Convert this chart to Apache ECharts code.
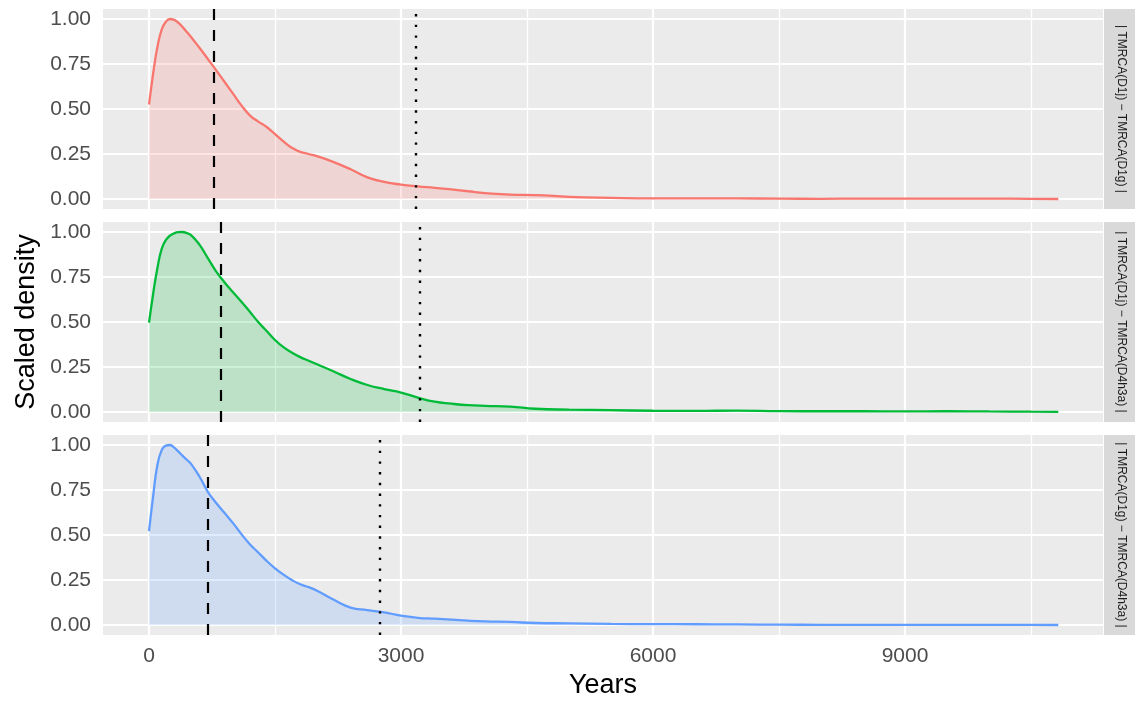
<!DOCTYPE html>
<html>
<head>
<meta charset="utf-8">
<script src="https://cdn.jsdelivr.net/npm/echarts@6/dist/echarts.min.js"></script>
<style>
	html, body { margin: 0; padding: 0; background: #fff; }
	#chart { width: 1135px; height: 706px; }
</style>
</head>
<body>
<div id="chart"></div>
<script>
// years on the x axis, shared by the three density curves
const years = [0, 50, 100, 150, 200, 250, 300, 350, 400, 450, 500, 600, 700, 800, 900, 1000, 1100, 1200, 1300, 1400, 1500, 1600, 1700, 1800, 1900, 2000, 2200, 2400, 2600, 2800, 3000, 3200, 3400, 3600, 3800, 4000, 4300, 4600, 5000, 5500, 6000, 6500, 7000, 7500, 8000, 8500, 9000, 9500, 10000, 10500, 10825]
const densD1jD1g = [0.525, 0.70, 0.845, 0.94, 0.985, 1.0, 0.995, 0.978, 0.955, 0.928, 0.90, 0.84, 0.778, 0.715, 0.65, 0.585, 0.52, 0.465, 0.43, 0.40, 0.36, 0.32, 0.285, 0.262, 0.25, 0.238, 0.205, 0.165, 0.12, 0.095, 0.08, 0.07, 0.062, 0.053, 0.043, 0.033, 0.024, 0.022, 0.012, 0.006, 0.003, 0.003, 0.003, 0.002, 0.001, 0.002, 0.002, 0.002, 0.002, 0.001, 0.0]
const densD1jD4h3a = [0.496, 0.66, 0.80, 0.905, 0.955, 0.98, 0.993, 0.999, 1.0, 0.994, 0.983, 0.93, 0.855, 0.78, 0.72, 0.665, 0.612, 0.557, 0.50, 0.45, 0.40, 0.36, 0.33, 0.305, 0.285, 0.265, 0.225, 0.183, 0.15, 0.127, 0.108, 0.08, 0.057, 0.046, 0.038, 0.034, 0.03, 0.018, 0.013, 0.01, 0.007, 0.006, 0.008, 0.005, 0.004, 0.004, 0.003, 0.004, 0.003, 0.002, 0.001]
const densD1gD4h3a = [0.521, 0.72, 0.89, 0.97, 0.997, 1.0, 0.985, 0.963, 0.94, 0.918, 0.895, 0.825, 0.74, 0.678, 0.622, 0.566, 0.505, 0.449, 0.403, 0.356, 0.315, 0.28, 0.25, 0.226, 0.21, 0.19, 0.14, 0.097, 0.083, 0.07, 0.052, 0.04, 0.035, 0.03, 0.024, 0.02, 0.017, 0.011, 0.009, 0.006, 0.005, 0.004, 0.003, 0.002, 0.001, 0.001, 0.001, 0.001, 0.001, 0.001, 0.0]

const facetLabels = ["| TMRCA(D1j) − TMRCA(D1g) |", "| TMRCA(D1j) − TMRCA(D4h3a) |", "| TMRCA(D1g) − TMRCA(D4h3a) |"]
const facetColors = ["#F8766D", "#00BA38", "#619CFF"]
const dashedAt = [774, 849, 702]
const dottedAt = [3175, 3218, 2750]

const xBreaks = [0, 3000, 6000, 9000]
const xMinorBreaks = [1500, 4500, 7500, 10500]
const yBreaks = [0, 0.25, 0.5, 0.75, 1]

const font = "'Liberation Sans', Arial, sans-serif"
const panelTops = [9, 222, 435]
const panelH = 200
const series = [densD1jD1g, densD1jD4h3a, densD1gD4h3a]

let myChart = echarts.init(document.getElementById("chart"), null, { renderer: "canvas" })

let grids = [], xAxes = [], yAxes = [], allSeries = [], graphics = []

panelTops.forEach((top, i) => {
	let isBottom = i === panelTops.length - 1
	grids.push({
		left: 103,
		right: 32,
		top: top,
		height: panelH,
		show: true,
		backgroundColor: "#EBEBEB",
		borderWidth: 0,
	})
	xAxes.push({
		type: "value",
		gridIndex: i,
		min: -548,
		max: 11357,
		axisLine: { show: false },
		splitLine: { show: false },
		axisTick: {
			show: isBottom,
			customValues: xBreaks,
			length: 6,
			lineStyle: { color: "#333333", width: 1.5 },
		},
		axisLabel: {
			show: isBottom,
			customValues: xBreaks,
			margin: 11,
			fontSize: 21,
			color: "#4D4D4D",
			fontFamily: font,
			formatter: (v) => String(v),
		},
		name: isBottom ? "Years" : "",
		nameLocation: "middle",
		nameGap: 37,
		nameTextStyle: { fontSize: 27, color: "#000", fontFamily: font },
	})
	yAxes.push({
		type: "value",
		gridIndex: i,
		min: -0.0556,
		max: 1.0556,
		axisLine: { show: false },
		splitLine: { show: false },
		axisTick: {
			show: true,
			customValues: yBreaks,
			length: 6,
			lineStyle: { color: "#333333", width: 1.5 },
		},
		axisLabel: {
			customValues: yBreaks,
			margin: 12,
			fontSize: 21,
			color: "#4D4D4D",
			fontFamily: font,
			formatter: (v) => v.toFixed(2),
		},
	})

	// white grid lines, kept under the density fill (markLine z is 5 by default)
	let gridLines = []
	xMinorBreaks.forEach((v) => gridLines.push({ xAxis: v, lineStyle: { width: 1.3 } }))
	xBreaks.forEach((v) => gridLines.push({ xAxis: v, lineStyle: { width: 2.2 } }))
	yBreaks.forEach((v) => gridLines.push({ yAxis: v, lineStyle: { width: 2.2 } }))
	allSeries.push({
		type: "line",
		xAxisIndex: i,
		yAxisIndex: i,
		z: 1,
		data: [],
		silent: true,
		markLine: {
			z: 1,
			silent: true,
			symbol: ["none", "none"],
			label: { show: false },
			lineStyle: { color: "#FFFFFF", type: "solid" },
			data: gridLines,
		},
	})

	allSeries.push({
		type: "line",
		name: facetLabels[i],
		xAxisIndex: i,
		yAxisIndex: i,
		z: 3,
		smooth: 0.5,
		showSymbol: false,
		data: years.map((x, k) => [x, series[i][k]]),
		lineStyle: { color: facetColors[i], width: 2.3 },
		areaStyle: { color: facetColors[i], opacity: 0.2 },
	})

	// dashed and dotted reference lines
	allSeries.push({
		type: "line",
		xAxisIndex: i,
		yAxisIndex: i,
		z: 4,
		data: [],
		silent: true,
		markLine: {
			z: 6,
			silent: true,
			symbol: ["none", "none"],
			label: { show: false },
			data: [
				{ xAxis: dashedAt[i], lineStyle: { color: "#000", width: 2.2, type: [11, 10] } },
				{ xAxis: dottedAt[i], lineStyle: { color: "#000", width: 2.4, type: [2.4, 8.3] } },
			],
		},
	})

	// facet strip on the right
	graphics.push({
		type: "rect",
		shape: { x: 1104, y: top, width: 31, height: panelH },
		style: { fill: "#D9D9D9" },
		silent: true,
	})
	graphics.push({
		type: "text",
		x: 1121.5,
		y: top + panelH / 2,
		rotation: -Math.PI / 2,
		style: {
			text: facetLabels[i],
			align: "center",
			verticalAlign: "middle",
			fontSize: 12,
			fill: "#1A1A1A",
			fontFamily: font,
		},
		silent: true,
	})
})

graphics.push({
	type: "text",
	x: 27,
	y: (panelTops[0] + panelTops[2] + panelH) / 2,
	rotation: Math.PI / 2,
	style: {
		text: "Scaled density",
		align: "center",
		verticalAlign: "middle",
		fontSize: 27,
		fill: "#000",
		fontFamily: font,
	},
	silent: true,
})

let option = {
	animation: false,
	backgroundColor: "#FFFFFF",
	grid: grids,
	xAxis: xAxes,
	yAxis: yAxes,
	series: allSeries,
	graphic: graphics,
}
myChart.setOption(option)
</script>
</body>
</html>
